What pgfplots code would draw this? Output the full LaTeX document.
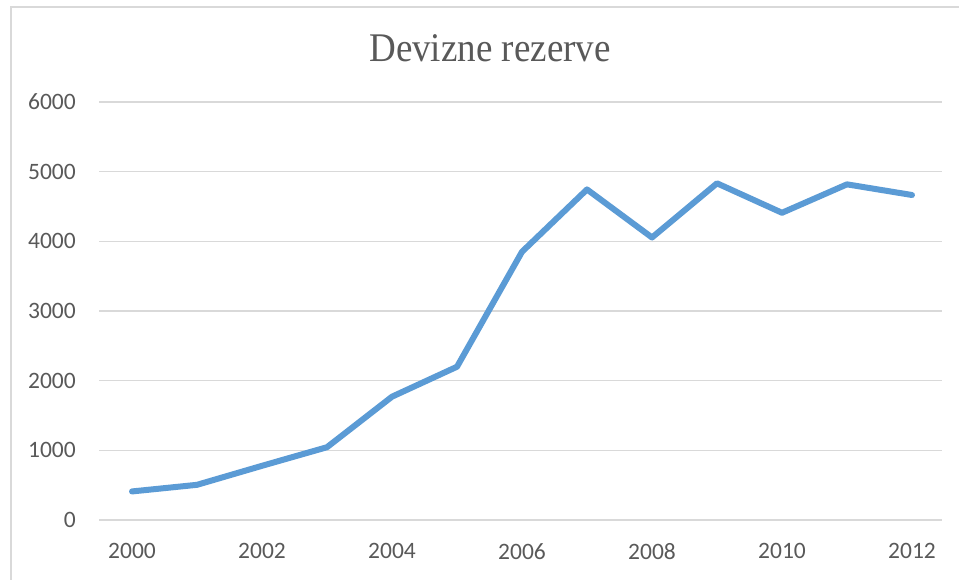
\documentclass[border=0pt]{standalone}
\usepackage{fontspec}
\usepackage{pgfplots}
\pgfplotsset{compat=1.18}
\newfontfamily\carlito{Carlito}
\newfontfamily\lserif{Liberation Serif}
\definecolor{linec}{HTML}{5B9BD5}
\definecolor{gridc}{HTML}{D9D9D9}
\definecolor{txtc}{HTML}{595959}
\begin{document}
\begin{tikzpicture}[x=1pt,y=1pt]
\useasboundingbox (0,0) rectangle (959,579);
\fill[white] (0,0) rectangle (959,579);
\draw[gridc, line width=1.5pt] (11,-10) rectangle (975,572);
\node[font={\lserif\fontsize{37}{40}\selectfont}, text=txtc, anchor=base, yscale=1.1] at (490,517) {Devizne rezerve};
\begin{axis}[
  at={(99pt,59pt)}, anchor=south west,
  scale only axis, width=842.5pt, height=418pt,
  xmin=1999.492, xmax=2012.454, ymin=0, ymax=6000,
  xtick={2000,2002,...,2012}, ytick={0,1000,...,6000},
  axis line style={draw=none}, tick style={draw=none},
  ymajorgrids, grid style={gridc, line width=1.5pt},
  /pgf/number format/assume math mode=true,
  /pgf/number format/set thousands separator={},
  ticklabel style={font={\carlito\fontsize{23.5}{28}\selectfont}, text=txtc, inner sep=0pt},
  yticklabel style={anchor=east, xshift=-23pt},
  xticklabel style={anchor=north, yshift=-23pt},
  clip=false,
]
\addplot[linec, line width=6pt, line join=round, line cap=round] coordinates {
(2000,410) (2001,505) (2002,778) (2003,1045) (2004,1770) (2005,2200) (2006,3850)
(2007,4745) (2008,4055) (2009,4833) (2010,4410) (2011,4818) (2012,4665)
};
\end{axis}
\end{tikzpicture}
\end{document}
